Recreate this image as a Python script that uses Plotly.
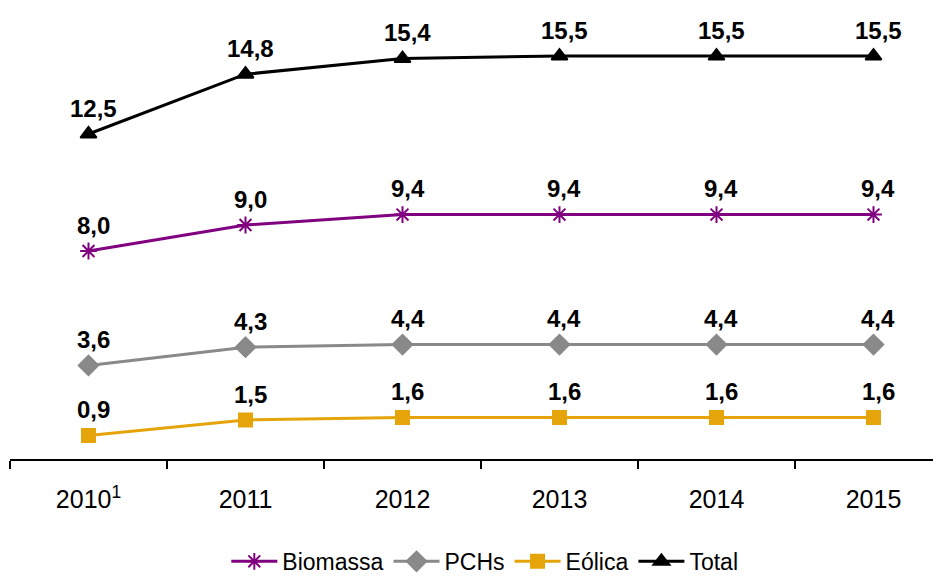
import plotly.graph_objects as go

years = ["2010<sup>1</sup>", "2011", "2012", "2013", "2014", "2015"]
biomassa = [8.0, 9.0, 9.4, 9.4, 9.4, 9.4]
pchs = [3.6, 4.3, 4.4, 4.4, 4.4, 4.4]
eolica = [0.9, 1.5, 1.6, 1.6, 1.6, 1.6]
total = [12.5, 14.8, 15.4, 15.5, 15.5, 15.5]

series = [
    ("Biomassa", biomassa, "#800080", "asterisk-open", 14),
    ("PCHs", pchs, "#898989", "diamond", 15),
    ("Eólica", eolica, "#E5A50A", "square", 13),
    ("Total", total, "#000000", "triangle-up", 14),
]

FONT = "Liberation Sans, Arial, Helvetica, sans-serif"

fig = go.Figure()
annotations = []
for name, vals, color, sym, size in series:
    fig.add_trace(go.Scatter(
        x=years, y=vals, name=name, mode="lines+markers",
        line=dict(color=color, width=3),
        marker=dict(symbol=sym, size=size, color=color,
                    line=dict(color=color, width=2)),
    ))
    for i, yv in enumerate(vals):
        annotations.append(dict(
            x=i, y=yv, xref="x", yref="y",
            text="<b>" + f"{yv:.1f}".replace(".", ",") + "</b>",
            showarrow=False, yanchor="middle", xanchor="center",
            yshift=26, xshift=5,
            font=dict(family=FONT, size=24, color="#000000"),
        ))

fig.update_layout(
    width=941, height=577,
    margin=dict(l=2, r=8, t=2, b=126, autoexpand=False),
    paper_bgcolor="white", plot_bgcolor="white",
    annotations=annotations,
    showlegend=True,
    legend=dict(orientation="h", x=0.51, xanchor="center", y=-0.228,
                yanchor="middle", font=dict(family=FONT, size=23, color="#000000"),
                itemwidth=46, tracegroupgap=0),
    font=dict(family=FONT),
)
fig.update_xaxes(
    type="category", range=[-0.5, 5.43],
    showline=True, linecolor="black", linewidth=2,
    ticks="outside", tickson="boundaries", ticklen=8, tickwidth=1.5,
    tickcolor="black", showgrid=False, zeroline=False,
    tickfont=dict(family=FONT, size=25, color="#000000"),
    ticklabelstandoff=17,
)
fig.update_yaxes(
    range=[0, 17.27], visible=False, showgrid=False, zeroline=False,
)

fig.write_html("out.html")
